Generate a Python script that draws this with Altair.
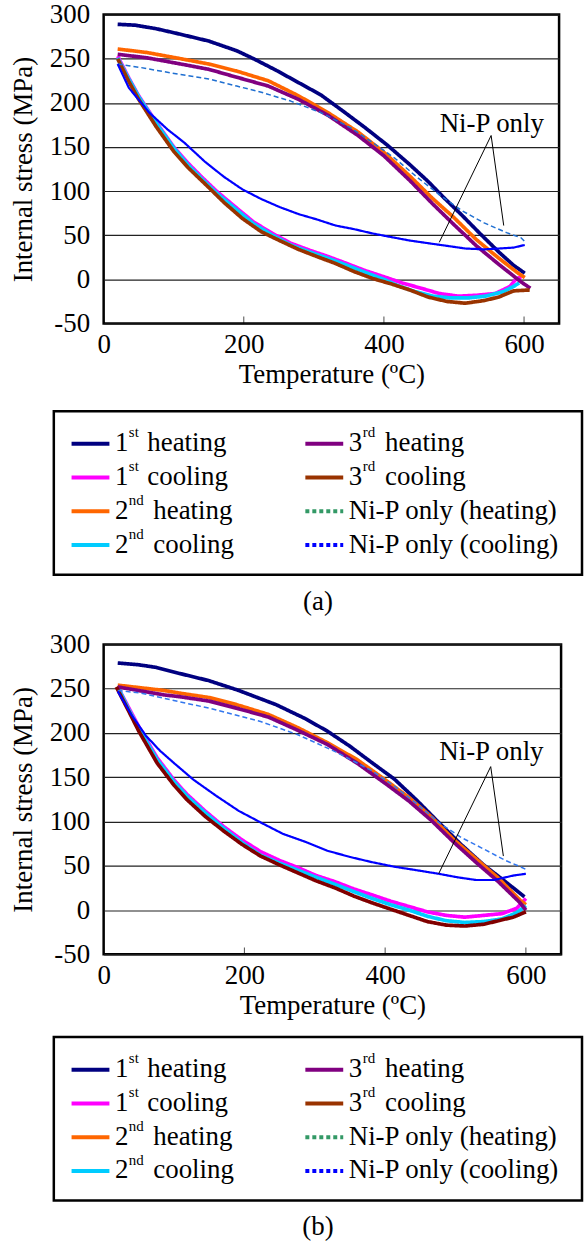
import altair as alt
import pandas as pd

SERIF = "Liberation Serif"
FS = 27

SERIES = ["1st heating", "1st cooling", "2nd heating", "2nd cooling",
          "3rd heating", "3rd cooling", "Ni-P only (heating)", "Ni-P only (cooling)"]

# ---------------- panel (a): temperature (degC) / internal stress (MPa) ----------------
A_H1_T = [20, 45, 75, 108, 150, 190, 214, 246, 278, 310, 341, 373, 405, 437, 463, 485, 511, 537, 564, 585, 601]
A_H1_S = [289, 288, 284, 278, 270, 259, 250, 237, 223, 209, 191, 172, 152, 130, 111, 93, 73, 52, 31, 16, 7]
A_C1_T = [596, 588, 580, 559, 532, 506, 479, 453, 426, 400, 373, 347, 320, 294, 267, 241, 214, 188, 161, 140, 120, 100, 75, 50, 36, 20]
A_C1_S = [3, 0, -8, -16, -18, -19, -16, -10, -4, 3, 10, 18, 26, 33, 41, 52, 65, 82, 100, 116, 132, 150, 178, 208, 228, 253]
A_H2_T = [20, 62, 110, 150, 190, 235, 278, 320, 363, 400, 437, 469, 500, 532, 564, 590, 601]
A_H2_S = [261, 257, 250, 244, 236, 225, 208, 189, 167, 144, 117, 92, 70, 45, 24, 8, 2]
A_C2_T = [593, 585, 570, 545, 520, 495, 470, 445, 420, 400, 373, 347, 320, 294, 267, 241, 214, 188, 161, 140, 120, 100, 75, 50, 36, 20]
A_C2_S = [-4, -8, -14, -19, -21, -21, -19, -14, -7, 0, 8, 16, 24, 31, 39, 50, 63, 80, 98, 114, 130, 149, 177, 207, 227, 251]
A_H3_T = [20, 62, 110, 150, 190, 235, 278, 320, 363, 400, 437, 469, 500, 532, 564, 596, 609]
A_H3_S = [255, 251, 244, 238, 229, 219, 204, 186, 163, 140, 112, 86, 62, 38, 17, -3, -10]
A_C3_T = [608, 585, 564, 543, 516, 490, 463, 437, 410, 384, 357, 331, 304, 278, 251, 225, 198, 172, 145, 120, 100, 75, 50, 36, 20]
A_C3_S = [-12, -13, -20, -24, -27, -25, -20, -12, -5, 1, 9, 18, 26, 34, 44, 54, 69, 87, 108, 127, 145, 173, 204, 224, 250]
A_NH_T = [20, 53, 110, 150, 190, 225, 267, 310, 352, 384, 416, 447, 479, 511, 543, 575, 596, 601]
A_NH_S = [244, 240, 232, 227, 219, 212, 202, 189, 172, 155, 137, 116, 96, 78, 64, 53, 47, 43]
A_NC_T = [601, 585, 543, 516, 490, 463, 437, 410, 384, 357, 331, 304, 278, 251, 225, 198, 172, 145, 115, 91, 65, 36, 20]
A_NC_S = [39, 36, 34, 35, 38, 41, 44, 48, 52, 57, 61, 68, 74, 82, 91, 102, 116, 133, 155, 170, 189, 217, 244]

# ---------------- panel (b) ----------------
B_H1_T = [20, 50, 75, 109, 150, 192, 245, 287, 318, 350, 382, 413, 445, 476, 508, 540, 571, 598]
B_H1_S = [279, 277, 274, 267, 259, 248, 232, 216, 202, 185, 166, 148, 124, 99, 74, 51, 32, 15]
B_C1_T = [600, 587, 566, 540, 513, 487, 460, 434, 408, 382, 355, 329, 302, 276, 250, 223, 197, 171, 144, 118, 100, 76, 50, 36, 20]
B_C1_S = [13, 2, -4, -6, -8, -6, -2, 4, 10, 17, 24, 32, 39, 48, 56, 66, 79, 94, 112, 131, 147, 172, 207, 228, 252]
B_H2_T = [20, 86, 108, 150, 189, 234, 276, 318, 360, 402, 434, 466, 497, 529, 561, 592, 600]
B_H2_S = [254, 248, 245, 240, 232, 221, 206, 189, 170, 146, 127, 105, 80, 58, 36, 11, 6]
B_C2_T = [600, 587, 566, 540, 513, 487, 460, 434, 408, 382, 355, 329, 302, 276, 250, 223, 197, 171, 144, 118, 100, 76, 50, 36, 20]
B_C2_S = [5, -3, -10, -13, -14, -12, -7, 0, 6, 13, 21, 29, 37, 45, 53, 62, 76, 92, 110, 129, 145, 170, 205, 226, 252]
B_H3_T = [20, 86, 108, 150, 189, 234, 276, 318, 360, 402, 434, 466, 497, 529, 561, 592, 600]
B_H3_S = [252, 243, 241, 236, 228, 218, 203, 187, 166, 142, 123, 101, 77, 54, 32, 8, 0]
B_C3_T = [600, 582, 561, 540, 513, 487, 460, 434, 408, 382, 355, 329, 302, 276, 250, 223, 197, 171, 144, 118, 100, 76, 50, 36, 18]
B_C3_S = [-2, -8, -12, -16, -18, -17, -13, -6, 1, 8, 16, 25, 33, 42, 51, 61, 74, 89, 106, 125, 141, 166, 202, 224, 252]
B_NH_T = [20, 53, 109, 150, 189, 223, 276, 329, 382, 413, 445, 476, 508, 540, 571, 592, 600]
B_NH_S = [248, 245, 235, 228, 220, 213, 198, 179, 157, 140, 120, 99, 82, 69, 56, 49, 46]
B_NC_T = [600, 582, 555, 529, 503, 476, 445, 413, 382, 350, 318, 287, 255, 223, 192, 160, 128, 100, 80, 60, 39, 20]
B_NC_S = [41, 39, 34, 34, 37, 41, 45, 49, 54, 60, 67, 77, 86, 99, 112, 129, 147, 166, 180, 197, 221, 247]

# "Ni-P only" callout: label anchor and pointer segments (T, S) -> (T2, S2)
A_NOTE = {"T": [554], "S": [167], "text": ["Ni-P only"]}
A_PTR = {"T": [553, 553], "S": [163, 163], "T2": [479, 571], "S2": [42, 61]}
B_NOTE = {"T": [551], "S": [170], "text": ["Ni-P only"]}
B_PTR = {"T": [550, 550], "S": [162, 162], "T2": [476, 568], "S2": [41, 61]}

X_TICKS = [0, 200, 400, 600]
Y_TICKS = [-50, 0, 50, 100, 150, 200, 250, 300]

# legend entries: ordinal number, superscript suffix, remainder, grid cell
LEG_LEAD = ["1", "1", "2", "2", "3", "3", "Ni-P only (heating)", "Ni-P only (cooling)"]
LEG_SUP = ["st", "st", "nd", "nd", "rd", "rd", "", ""]
LEG_REST = ["heating", "cooling", "heating", "cooling", "heating", "cooling", "", ""]
LEG_COL = [0, 0, 0, 0, 1, 1, 1, 1]
LEG_ROW = [0, 1, 2, 3, 0, 1, 2, 3]

# styles
LEG_COLORS = ["#000080", "#ff00ff", "#ff6600", "#00ccff", "#800080", "#993300", "#339966", "#0000ff"]
LEG_DASHES = [[1, 0]] * 6 + [[4, 3], [4, 3]]
A_COLORS = ["#000080", "#ff00ff", "#ff6600", "#00ccff", "#800080", "#993300", "#1f6fd1", "#0000ff"]
B_COLORS = ["#000080", "#ff00ff", "#ff6600", "#00ccff", "#800080", "#800000", "#3377ee", "#0000ff"]
LINE_WIDTH = [3.7] * 6 + [1.5, 2.2]
LINE_DASH = [[1, 0]] * 6 + [[5, 3], [1, 0]]
SUP_REST_DX = {"st": 76, "nd": 82, "rd": 80}

A_CURVES = [(A_H1_T, A_H1_S), (A_C1_T, A_C1_S), (A_H2_T, A_H2_S), (A_C2_T, A_C2_S),
            (A_H3_T, A_H3_S), (A_C3_T, A_C3_S), (A_NH_T, A_NH_S), (A_NC_T, A_NC_S)]
B_CURVES = [(B_H1_T, B_H1_S), (B_C1_T, B_C1_S), (B_H2_T, B_H2_S), (B_C2_T, B_C2_S),
            (B_H3_T, B_H3_S), (B_C3_T, B_C3_S), (B_NH_T, B_NH_S), (B_NC_T, B_NC_S)]


def main_panel(curves, colors, note, pointers, width, height):
    xs = alt.Scale(domain=[0, 650], nice=False, zero=False)
    ys = alt.Scale(domain=[-50, 300], nice=False, zero=False)
    xa = alt.Axis(values=X_TICKS, title="Temperature (ºC)", grid=False, domain=False,
                  ticks=False, labelFlush=False, labelPadding=8, titlePadding=4)
    ya = alt.Axis(values=Y_TICKS, title="Internal stress (MPa)", grid=True,
                  gridColor="#222222", gridWidth=1.2, domain=False, ticks=False,
                  labelFlush=False, labelPadding=14, titlePadding=12,
                  labelExpr="'' + datum.value")

    def X(f):
        return alt.X(f, type="quantitative", scale=xs, axis=xa)

    def Y(f):
        return alt.Y(f, type="quantitative", scale=ys, axis=ya)

    layers = []
    for k, (T, S) in enumerate(curves):
        df = pd.DataFrame({"T": T, "S": S, "i": list(range(len(T)))})
        layers.append(
            alt.Chart(df).mark_line(color=colors[k], strokeWidth=LINE_WIDTH[k],
                                    strokeDash=LINE_DASH[k], strokeJoin="round")
            .encode(x=X("T"), y=Y("S"), order=alt.Order("i:Q"))
        )
    ticks = pd.DataFrame({"T": X_TICKS, "S": [-50] * len(X_TICKS)})
    layers.append(
        alt.Chart(ticks).mark_tick(orient="vertical", size=7, thickness=1,
                                   color="black", yOffset=-3.5)
        .encode(x=X("T"), y=Y("S"))
    )
    layers.append(
        alt.Chart(pd.DataFrame(pointers)).mark_rule(color="black", strokeWidth=1)
        .encode(x=X("T"), y=Y("S"), x2="T2", y2="S2")
    )
    layers.append(
        alt.Chart(pd.DataFrame(note)).mark_text(font=SERIF, fontSize=FS, color="black",
                                                align="center", baseline="alphabetic")
        .encode(x=X("T"), y=Y("S"), text="text:N")
    )
    return alt.layer(*layers).properties(width=width, height=height)


def legend_view(caption):
    df = pd.DataFrame({"col": LEG_COL, "row": LEG_ROW, "lead": LEG_LEAD,
                       "sup": LEG_SUP, "rest": LEG_REST, "series": SERIES})
    X = alt.X("col:Q", scale=alt.Scale(domain=[0, 1], range=[17.8, 252.4]), axis=None)
    Y = alt.Y("row:Q", scale=alt.Scale(domain=[0, 3], range=[32.7, 134.3]), axis=None)
    base = alt.Chart(df)
    swatch = base.mark_rule(x2Offset=38, strokeWidth=4).encode(
        x=X, x2=alt.X2("col"), y=Y,
        color=alt.Color("series:N", scale=alt.Scale(domain=SERIES, range=LEG_COLORS), legend=None),
        strokeDash=alt.StrokeDash("series:N", scale=alt.Scale(domain=SERIES, range=LEG_DASHES), legend=None),
    )
    lead = base.mark_text(font=SERIF, fontSize=FS, color="black", align="left",
                          baseline="alphabetic", dx=43.5, dy=7.6).encode(x=X, y=Y, text="lead:N")
    sup = base.mark_text(font=SERIF, fontSize=15, color="black", align="left",
                         baseline="alphabetic", dx=57.5, dy=-6.4).encode(x=X, y=Y, text="sup:N")
    layers = [swatch, lead, sup]
    for s, dx in SUP_REST_DX.items():
        layers.append(
            base.transform_filter(alt.datum.sup == s)
            .mark_text(font=SERIF, fontSize=FS, color="black", align="left",
                       baseline="alphabetic", dx=dx, dy=7.6)
            .encode(x=X, y=Y, text="rest:N")
        )
    return alt.layer(*layers).properties(
        width=530, height=164,
        title=alt.TitleParams(caption, orient="bottom", font=SERIF, fontSize=FS,
                              fontWeight="normal", color="black", offset=14),
    )


def spacer(height):
    return alt.Chart(pd.DataFrame({"v": [0]})).mark_point(opacity=0).properties(
        width=50, height=height, view=alt.ViewBackground(stroke="transparent"))


row_a = alt.hconcat(spacer(310), main_panel(A_CURVES, A_COLORS, A_NOTE, A_PTR, 457, 310),
                    spacing=0, bounds="flush")
row_b = alt.hconcat(spacer(311), main_panel(B_CURVES, B_COLORS, B_NOTE, B_PTR, 459, 311),
                    spacing=0, bounds="flush")

panel_a = alt.vconcat(row_a, legend_view("(a)"), spacing=20)
panel_b = alt.vconcat(row_b, legend_view("(b)"), spacing=15)

chart = alt.vconcat(panel_a, panel_b, spacing=12).properties(
    padding={"left": 8, "top": -3.5, "right": 0, "bottom": 2}
).configure(background="white").configure_view(
    stroke="black", strokeWidth=2.5
).configure_axis(
    labelFont=SERIF, labelFontSize=FS, labelColor="black",
    titleFont=SERIF, titleFontSize=FS, titleColor="black", titleFontWeight="normal"
)

chart.save("out.html", embed_options={"renderer": "svg", "actions": False})
